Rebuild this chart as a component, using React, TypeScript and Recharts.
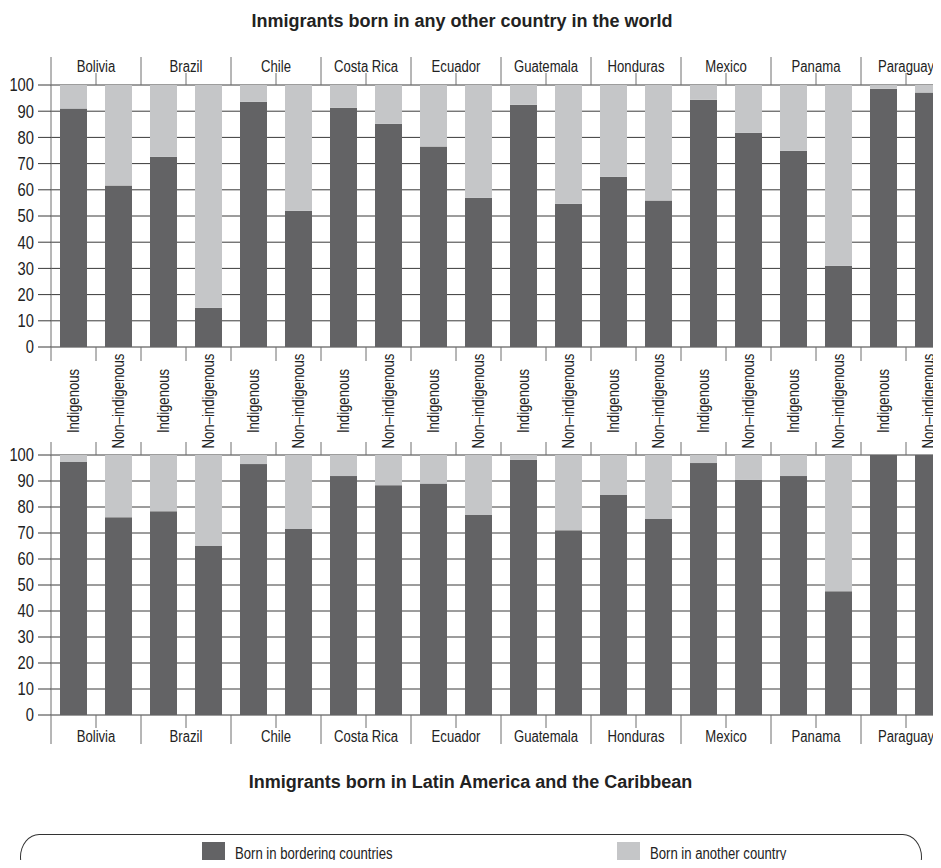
import React from "react";
import { Bar, BarChart, CartesianGrid, XAxis, YAxis } from "recharts";

const countries = ["Bolivia", "Brazil", "Chile", "Costa Rica", "Ecuador", "Guatemala", "Honduras", "Mexico", "Panama", "Paraguay"];
const groups = ["Indigenous", "Non\u2013indigenous"];

// pairs per country: Indigenous, Non-indigenous
const worldBordering = [91.0, 61.6, 72.6, 15.0, 93.6, 52.0, 91.3, 85.2, 76.5, 57.0, 92.5, 54.7, 65.0, 55.9, 94.4, 81.8, 74.9, 31.0, 98.6, 97.1];
const worldOther = [9.0, 38.4, 27.4, 85.0, 6.4, 48.0, 8.7, 14.8, 23.5, 43.0, 7.5, 45.3, 35.0, 44.1, 5.6, 18.2, 25.1, 69.0, 1.4, 2.9];
const latamBordering = [97.3, 76.1, 78.4, 65.0, 96.5, 71.5, 91.9, 88.4, 89.0, 76.9, 98.1, 71.1, 84.6, 75.4, 96.9, 90.4, 91.9, 47.6, 100, 100];
const latamOther = [2.7, 23.9, 21.6, 35.0, 3.5, 28.5, 8.1, 11.6, 11.0, 23.1, 1.9, 28.9, 15.4, 24.6, 3.1, 9.6, 8.1, 52.4, 0, 0];

const yTicks = [0, 10, 20, 30, 40, 50, 60, 70, 80, 90, 100];

const seriesNames = ["Born in bordering countries", "Born in another country"];

const DARK = "#636365";
const LIGHT = "#c5c6c8";
const GRID = "#3a3a3a";
const LINE = "#6e6e6e";
const TEXT = "#222";
const FONT = '"Liberation Sans", Arial, sans-serif';
const NARROW = 0.82; // the source uses a condensed face

function buildRows(bordering: number[], other: number[]) {
  return bordering.map((b, i) => {
    const country = countries[Math.floor(i / 2)];
    const group = groups[i % 2];
    return { key: `${country}|${group}`, country, group, bordering: b, other: other[i] };
  });
}

const worldRows = buildRows(worldBordering, worldOther);
const latamRows = buildRows(latamBordering, latamOther);

function NarrowText({ x, y, anchor, size, rotate, children }: any) {
  return (
    <text
      transform={`translate(${x},${y})${rotate ? ` rotate(${rotate})` : ""} scale(${NARROW},1)`}
      textAnchor={anchor}
      dy="0.355em"
      fontSize={size}
      fill={TEXT}
      fontFamily={FONT}
    >
      {children}
    </text>
  );
}

function CountryTick(props: any) {
  const { x, y, payload, index, visibleTicksCount, side } = props;
  const half = payload?.offset ?? 45;
  const dir = side === "top" ? -1 : 1;
  const sepLen = side === "top" ? 28 : 29;
  const midLen = side === "top" ? 12 : 13;
  const labelY = side === "top" ? y - 19 : y + 21;
  const last = index === visibleTicksCount - 1;
  return (
    <g>
      <line x1={x - half} x2={x - half} y1={y} y2={y + dir * sepLen} stroke={LINE} />
      {last && <line x1={x + half} x2={x + half} y1={y} y2={y + dir * sepLen} stroke={LINE} />}
      <line x1={x} x2={x} y1={y} y2={y + dir * midLen} stroke={LINE} />
      <NarrowText x={x} y={labelY} anchor="middle" size={16}>
        {payload.value}
      </NarrowText>
    </g>
  );
}

function GroupTick(props: any) {
  const { x, y, payload, index, visibleTicksCount, side, showLabel } = props;
  const half = payload?.offset ?? 22.5;
  const dir = side === "top" ? -1 : 1;
  const len = side === "top" ? 13 : 14;
  const last = index === visibleTicksCount - 1;
  const label = String(payload.value).split("|")[1];
  return (
    <g>
      <line x1={x - half} x2={x - half} y1={y} y2={y + dir * len} stroke={LINE} />
      {last && <line x1={x + half} x2={x + half} y1={y} y2={y + dir * len} stroke={LINE} />}
      {showLabel && (
        <NarrowText x={x} y={y + 54} anchor="middle" size={16} rotate={-90}>
          {label}
        </NarrowText>
      )}
    </g>
  );
}

function ValueAxis() {
  return (
    <YAxis
      domain={[0, 100]}
      ticks={yTicks}
      interval={0}
      width={51}
      tickSize={13}
      tickMargin={4}
      axisLine={{ stroke: LINE }}
      tickLine={{ stroke: GRID }}
      tick={(p: any) => (
        <NarrowText x={p.x} y={p.y} anchor="end" size={18}>
          {p.payload.value}
        </NarrowText>
      )}
    />
  );
}

export default function App() {
  const titleStyle: React.CSSProperties = {
    position: "absolute",
    textAlign: "center",
    fontWeight: "bold",
    fontSize: 18,
    lineHeight: "20px",
    color: TEXT,
    fontFamily: FONT,
  };
  return (
    <div style={{ position: "relative", margin: -8, width: 941, height: 868, overflow: "hidden", background: "#fff", fontFamily: FONT }}>
      <div style={{ ...titleStyle, left: 0, width: 924, top: 11 }}>Inmigrants born in any other country in the world</div>

      <div style={{ position: "absolute", left: 0, top: 0 }}>
        <BarChart width={960} height={460} data={worldRows} margin={{ top: 55, right: 9, bottom: 0, left: 0 }} barCategoryGap="20%">
          <CartesianGrid vertical={false} stroke={GRID} xAxisId="grp" />
          <XAxis
            xAxisId="cty"
            dataKey="country"
            orientation="top"
            allowDuplicatedCategory={false}
            height={30}
            axisLine={false}
            tickLine={false}
            tickSize={0}
            tickMargin={0}
            interval={0}
            tick={(p: any) => <CountryTick {...p} side="top" />}
          />
          <XAxis
            xAxisId="grp"
            dataKey="key"
            orientation="bottom"
            height={113}
            axisLine={false}
            tickLine={false}
            tickSize={0}
            tickMargin={0}
            interval={0}
            tick={(p: any) => <GroupTick {...p} side="bottom" showLabel />}
          />
          {ValueAxis()}
          <Bar xAxisId="grp" dataKey="bordering" name={seriesNames[0]} stackId="a" fill={DARK} isAnimationActive={false} />
          <Bar xAxisId="grp" dataKey="other" name={seriesNames[1]} stackId="a" fill={LIGHT} isAnimationActive={false} />
        </BarChart>
      </div>

      <div style={{ position: "absolute", left: 0, top: 430 }}>
        <BarChart width={960} height={316} data={latamRows} margin={{ top: 0, right: 9, bottom: 0, left: 0 }} barCategoryGap="20%">
          <CartesianGrid vertical={false} stroke={GRID} xAxisId="grp" />
          <XAxis
            xAxisId="grp"
            dataKey="key"
            orientation="top"
            height={25}
            axisLine={false}
            tickLine={false}
            tickSize={0}
            tickMargin={0}
            interval={0}
            tick={(p: any) => <GroupTick {...p} side="top" />}
          />
          <XAxis
            xAxisId="cty"
            dataKey="country"
            orientation="bottom"
            allowDuplicatedCategory={false}
            height={31}
            axisLine={false}
            tickLine={false}
            tickSize={0}
            tickMargin={0}
            interval={0}
            tick={(p: any) => <CountryTick {...p} side="bottom" />}
          />
          {ValueAxis()}
          <Bar xAxisId="grp" dataKey="bordering" name={seriesNames[0]} stackId="a" fill={DARK} isAnimationActive={false} />
          <Bar xAxisId="grp" dataKey="other" name={seriesNames[1]} stackId="a" fill={LIGHT} isAnimationActive={false} />
        </BarChart>
      </div>

      <div style={{ ...titleStyle, left: 0, width: 941, top: 772 }}>Inmigrants born in Latin America and the Caribbean</div>

      <div
        style={{
          position: "absolute",
          left: 20,
          top: 834,
          width: 900,
          height: 44,
          border: "1px solid #333",
          borderRadius: "20px / 24px",
        }}
      />
      {[DARK, LIGHT].map((color, i) => (
        <div key={seriesNames[i]} style={{ position: "absolute", left: i === 0 ? 202 : 617, top: 842, display: "flex", alignItems: "center" }}>
          <div style={{ width: 23, height: 23, background: color }} />
          <span
            style={{
              marginLeft: 10,
              fontSize: 16,
              color: TEXT,
              lineHeight: "23px",
              whiteSpace: "nowrap",
              display: "inline-block",
              transform: `scaleX(${NARROW})`,
              transformOrigin: "left center",
            }}
          >
            {seriesNames[i]}
          </span>
        </div>
      ))}
    </div>
  );
}
